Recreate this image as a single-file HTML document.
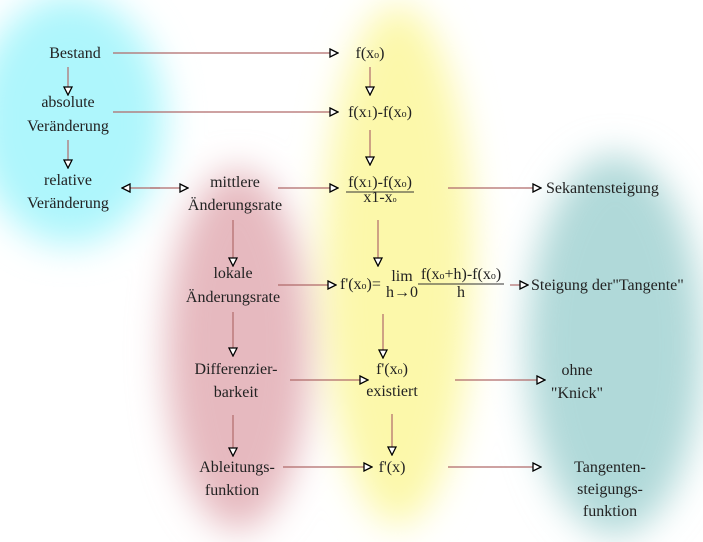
<!DOCTYPE html>
<html><head><meta charset="utf-8"><style>
html,body{margin:0;padding:0;background:#fff}
svg{display:block}
text{font-family:"Liberation Serif",serif;font-size:16px;fill:#222}
</style></head><body>
<svg width="703" height="542" viewBox="0 0 703 542" xmlns="http://www.w3.org/2000/svg">
<defs>
<filter id="b" x="-50%" y="-50%" width="200%" height="200%"><feGaussianBlur stdDeviation="18"/></filter>
<marker id="t" viewBox="0 0 10 10" refX="1" refY="5" markerWidth="10" markerHeight="10" markerUnits="userSpaceOnUse" orient="auto"><path d="M1,1 L9,5 L1,9 Z" fill="#fff" stroke="#000" stroke-width="1.3"/></marker>
</defs>
<g filter="url(#b)">
<ellipse cx="70" cy="120" rx="95" ry="125" fill="#aef6fc"/>
<ellipse cx="238" cy="350" rx="72" ry="180" fill="#e6b9bf"/>
<ellipse cx="398" cy="265" rx="75" ry="260" fill="#fcf8aa"/>
<ellipse cx="615" cy="345" rx="88" ry="190" fill="#b0d9d9"/>
</g>
<g stroke="#b06a6a" stroke-width="1.2" fill="none" marker-end="url(#t)">
<line x1="113" y1="53" x2="330" y2="53"/>
<line x1="113" y1="112" x2="330" y2="112"/>
<line x1="68" y1="67" x2="68" y2="87"/>
<line x1="68" y1="140" x2="68" y2="160"/>
<line x1="370" y1="67" x2="370" y2="87"/>
<line x1="370" y1="130" x2="370" y2="157"/>
<line x1="278" y1="188" x2="330" y2="188"/>
<line x1="448" y1="188" x2="533" y2="188"/>
<line x1="378" y1="220" x2="378" y2="258"/>
<line x1="233" y1="220" x2="233" y2="258"/>
<line x1="278" y1="285" x2="328" y2="285"/>
<line x1="510" y1="285" x2="520" y2="285"/>
<line x1="233" y1="312" x2="233" y2="348"/>
<line x1="383" y1="314" x2="383" y2="350"/>
<line x1="290" y1="380" x2="360" y2="380"/>
<line x1="455" y1="380" x2="537" y2="380"/>
<line x1="233" y1="415" x2="233" y2="448"/>
<line x1="392" y1="414" x2="392" y2="447"/>
<line x1="283" y1="467" x2="364" y2="467"/>
<line x1="448" y1="467" x2="533" y2="467"/>
<line x1="150" y1="188" x2="180" y2="188"/>
<line x1="160" y1="188" x2="130" y2="188"/>
</g>
<g text-anchor="middle">
<text x="75" y="58">Bestand</text>
<text x="370" y="58">f(x<tspan font-size="10">o</tspan>)</text>
<text x="68" y="107">absolute</text>
<text x="68" y="131">Veränderung</text>
<text x="380" y="117">f(x<tspan font-size="11">1</tspan>)-f(x<tspan font-size="10">o</tspan>)</text>
<text x="68" y="185">relative</text>
<text x="68" y="208">Veränderung</text>
<text x="235" y="187">mittlere</text>
<text x="235" y="210">Änderungsrate</text>
<text x="380" y="187">f(x<tspan font-size="11">1</tspan>)-f(x<tspan font-size="10">o</tspan>)</text>
<text x="380" y="202" font-size="12">x1-x<tspan font-size="8">o</tspan></text>
<text x="233" y="278">lokale</text>
<text x="233" y="302">Änderungsrate</text>
<text x="402" y="281">lim</text>
<text x="402" y="297">h→0</text>
<text x="461" y="279">f(x<tspan font-size="10">o</tspan>+h)-f(x<tspan font-size="10">o</tspan>)</text>
<text x="461" y="297">h</text>
<text x="236" y="374">Differenzier-</text>
<text x="236" y="397">barkeit</text>
<text x="392" y="374">f'(x<tspan font-size="10">o</tspan>)</text>
<text x="392" y="396">existiert</text>
<text x="577" y="375">ohne</text>
<text x="577" y="398">"Knick"</text>
<text x="237" y="472">Ableitungs-</text>
<text x="232" y="495">funktion</text>
<text x="392" y="472">f'(x)</text>
<text x="610" y="472">Tangenten-</text>
<text x="610" y="494">steigungs-</text>
<text x="610" y="516">funktion</text>
</g>
<text x="340" y="289">f'(x<tspan font-size="10">o</tspan>)=</text>
<text x="546" y="193">Sekantensteigung</text>
<text x="531" y="290">Steigung der"Tangente"</text>
<g stroke="#333" stroke-width="1">
<line x1="346" y1="192" x2="414" y2="192"/>
<line x1="418" y1="284" x2="504" y2="284"/>
</g>
</svg>
</body></html>
